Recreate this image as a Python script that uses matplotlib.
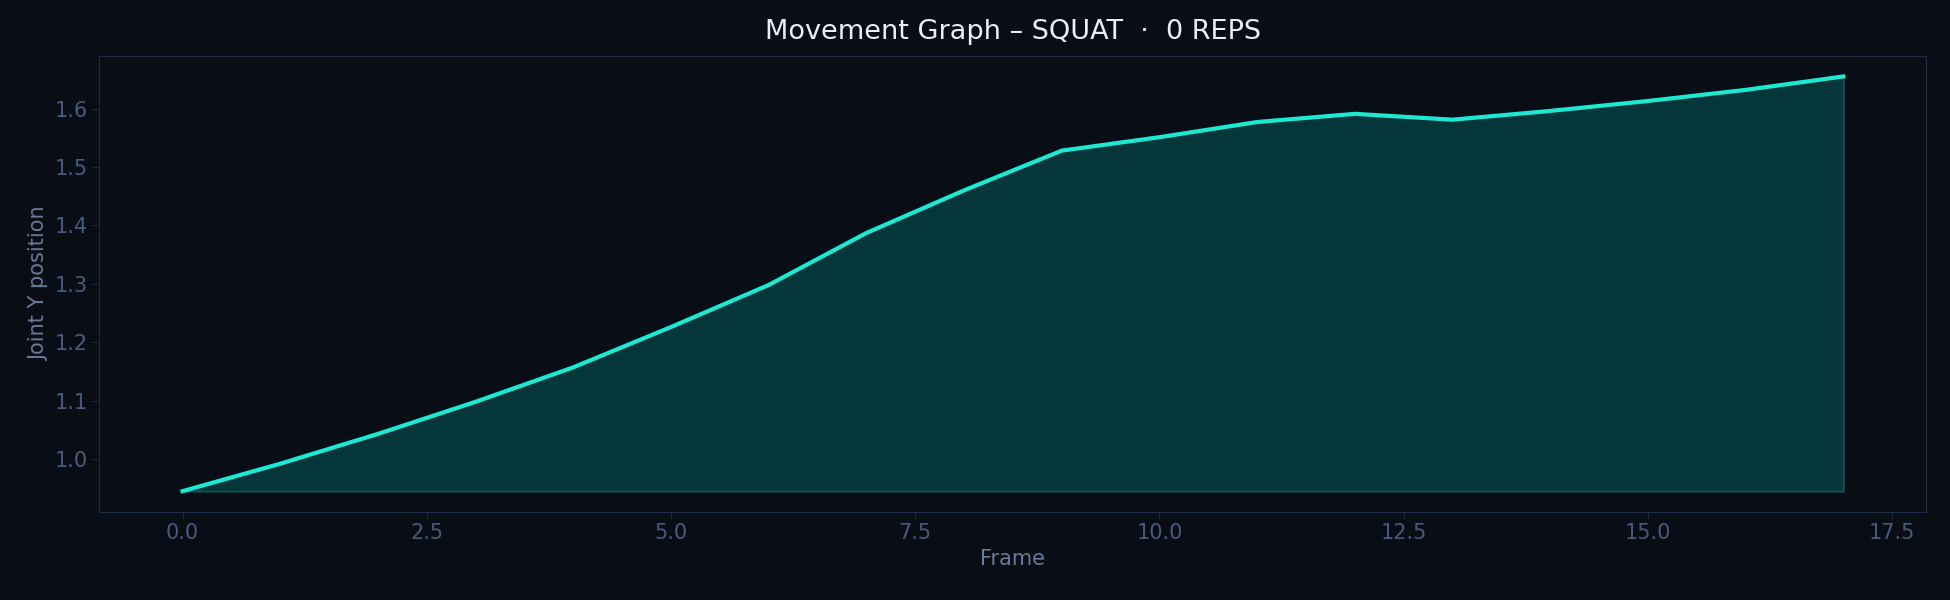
import numpy as np
import matplotlib
matplotlib.use("Agg")
import matplotlib.pyplot as plt

# Joint Y position per frame
frames = np.arange(18)
joint_y = [0.945, 0.992, 1.043, 1.098, 1.157, 1.226, 1.298, 1.387, 1.460, 1.528,
           1.551, 1.577, 1.591, 1.581, 1.596, 1.613, 1.632, 1.655]

bg = '#090d15'
fig = plt.figure(figsize=(19.5, 6), dpi=100, facecolor=bg)
W, H = 1568, 482
ax = fig.add_axes([80 / W, 1 - 411 / H, 1469 / W, 366 / H], facecolor=bg)

ax.fill_between(frames, min(joint_y), joint_y, color='#04363a', edgecolor='#0b5a55', lw=1.2)
ax.plot(frames, joint_y, color='#1de9d2', lw=3)

ax.set_xlim(-0.85, 17.85)
ax.set_ylim(0.91, 1.69)
ax.set_xticks(np.arange(0, 17.6, 2.5))
ax.set_yticks([1.0, 1.1, 1.2, 1.3, 1.4, 1.5, 1.6])
for s in ax.spines.values():
    s.set_color('#1e2a44')
ax.tick_params(colors='#1e2a44', labelcolor='#4a5a7a', labelsize=15, length=5)
ax.set_xlabel('Frame', color='#6a7a9a', fontsize=15)
ax.set_ylabel('Joint Y position', color='#6a7a9a', fontsize=15)
ax.set_title('Movement Graph – SQUAT  ·  0 REPS', color='#e8eefa', fontsize=19.5, pad=12)

fig.savefig('out.png', facecolor=bg)
